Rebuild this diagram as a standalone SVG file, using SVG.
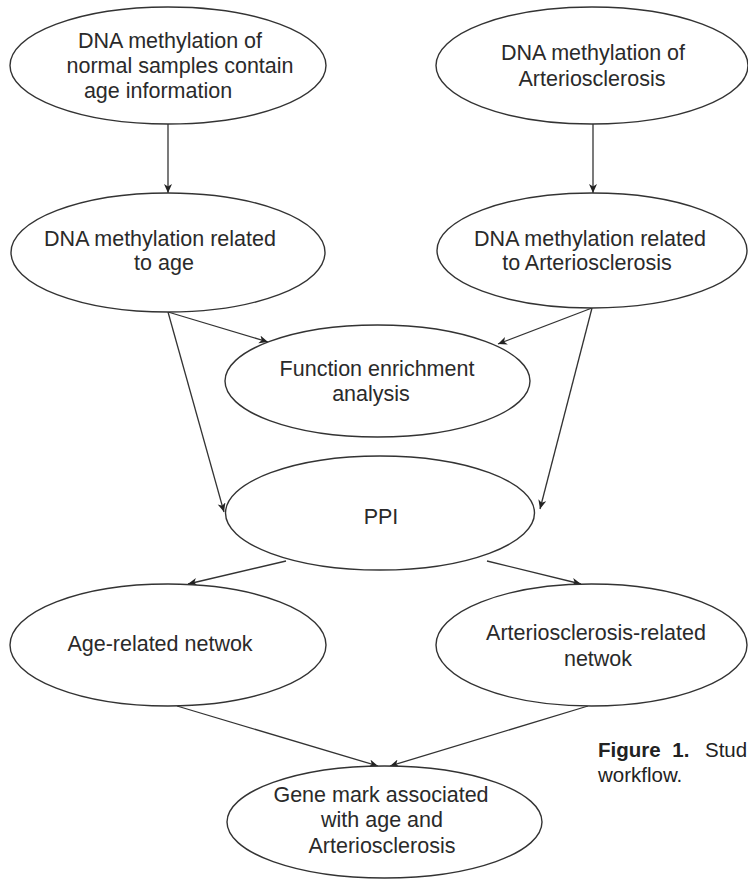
<svg xmlns="http://www.w3.org/2000/svg" width="748" height="879" viewBox="0 0 748 879">
<style>
  .node ellipse { fill: #ffffff; stroke: #333333; stroke-width: 1.4; }
  .node text { font-family: "Liberation Sans", Arial, sans-serif; font-size: 21.5px; fill: #2a2a2a; text-anchor: middle; }
  .edge { stroke: #333333; stroke-width: 1.3; fill: none; marker-end: url(#arrow); }
  .cap { font-family: "Liberation Sans", Arial, sans-serif; font-size: 20.5px; fill: #222222; }
</style>
<defs>
  <marker id="arrow" markerUnits="userSpaceOnUse" markerWidth="10" markerHeight="9" refX="9" refY="4" orient="auto">
    <path d="M0,0 L9,4 L0,8 L2.5,4 z" fill="#222222"/>
  </marker>
</defs>
<rect width="748" height="879" fill="#ffffff"/>
<g id="connectors">
  <line class="edge" x1="168" y1="124" x2="168" y2="193"/>
  <line class="edge" x1="593" y1="124" x2="593" y2="193"/>
  <line class="edge" x1="168" y1="312" x2="268" y2="342"/>
  <line class="edge" x1="592" y1="308" x2="498" y2="344"/>
  <line class="edge" x1="168" y1="312" x2="224" y2="512"/>
  <line class="edge" x1="592" y1="308" x2="540" y2="509"/>
  <line class="edge" x1="286" y1="561" x2="188" y2="584"/>
  <line class="edge" x1="487" y1="561" x2="581" y2="584"/>
  <line class="edge" x1="177" y1="706" x2="378" y2="766"/>
  <line class="edge" x1="588" y1="706" x2="390" y2="766"/>
</g>
<g id="n1" class="node">
  <ellipse cx="168" cy="65.5" rx="158" ry="58.5"/>
  <text x="170" y="48">DNA methylation of</text>
  <text x="180" y="73">normal samples contain</text>
  <text x="158" y="98">age information</text>
</g>
<g id="n2" class="node">
  <ellipse cx="592" cy="65.5" rx="156" ry="58.5"/>
  <text x="593" y="60">DNA methylation of</text>
  <text x="592" y="86">Arteriosclerosis</text>
</g>
<g id="n3" class="node">
  <ellipse cx="168" cy="252.5" rx="157" ry="59.5"/>
  <text x="160" y="246">DNA methylation related</text>
  <text x="164" y="270">to age</text>
</g>
<g id="n4" class="node">
  <ellipse cx="592" cy="250.5" rx="155" ry="57.5"/>
  <text x="590" y="246">DNA methylation related</text>
  <text x="587" y="270">to Arteriosclerosis</text>
</g>
<g id="n5" class="node">
  <ellipse cx="377.5" cy="381" rx="152.5" ry="56"/>
  <text x="377" y="376">Function enrichment</text>
  <text x="371" y="401">analysis</text>
</g>
<g id="n6" class="node">
  <ellipse cx="380" cy="513" rx="154.5" ry="57"/>
  <text x="381" y="524">PPI</text>
</g>
<g id="n7" class="node">
  <ellipse cx="168" cy="645" rx="158" ry="61"/>
  <text x="160" y="651">Age-related netwok</text>
</g>
<g id="n8" class="node">
  <ellipse cx="591.5" cy="645" rx="155.5" ry="61"/>
  <text x="596" y="640">Arteriosclerosis-related</text>
  <text x="598" y="666">netwok</text>
</g>
<g id="n9" class="node">
  <ellipse cx="384.5" cy="822" rx="157.5" ry="56"/>
  <text x="381" y="802">Gene mark associated</text>
  <text x="382" y="827">with age and</text>
  <text x="382" y="853">Arteriosclerosis</text>
</g>
<g id="caption">
  <text class="cap" x="598" y="757" font-weight="bold" word-spacing="6">Figure 1.</text>
  <text class="cap" x="705" y="757">Stud</text>
  <text class="cap" x="598" y="782">workflow.</text>
</g>
</svg>
